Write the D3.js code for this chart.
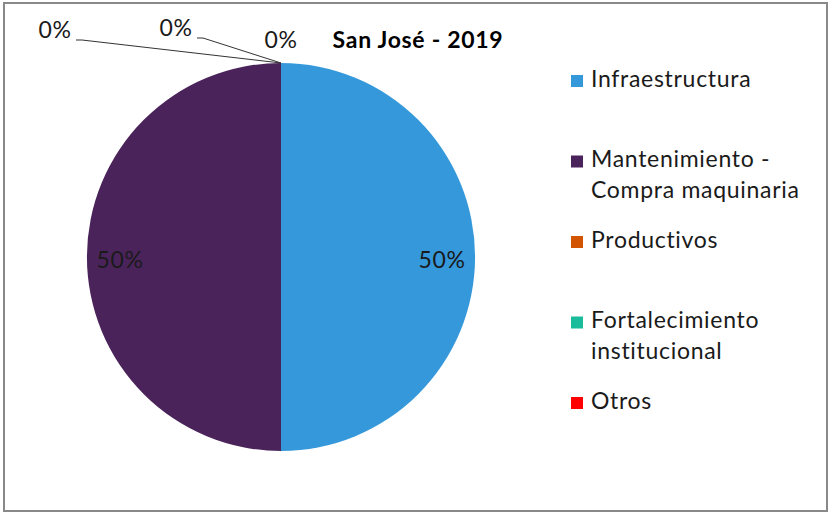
<!DOCTYPE html>
<html lang="es">
<head>
    <meta charset="UTF-8">
    <title>San José - 2019</title>
    <script src="https://d3js.org/d3.v7.min.js"></script>
    <style>
        body {
            margin: 0;
            background-color: #ffffff;
            font-family: Lato, "Open Sans", sans-serif;
        }
        svg text {
            fill: #1a1a1a;
            letter-spacing: 0.7px;
        }
    </style>
</head>
<body>
    <svg id="chart" width="832" height="514"></svg>
    <script>
        // data
        const title = 'San José - 2019';
        const categories = ['Infraestructura', 'Mantenimiento - Compra maquinaria', 'Productivos', 'Fortalecimiento institucional', 'Otros'];
        const legendLines = [['Infraestructura'], ['Mantenimiento -', 'Compra maquinaria'], ['Productivos'], ['Fortalecimiento', 'institucional'], ['Otros']];
        const values = [50, 50, 0, 0, 0];
        const colors = ['#3498db', '#4a235a', '#d35400', '#1abc9c', '#ff0000'];

        // layout for the three 0% labels (pulled out to the upper left by Excel)
        const zeroLabelPos = [[-226, -225], [-105, -227], [0, -215]];

        const svg = d3.select('#chart');
        const cx = 281, cy = 257, r = 194;
        const fs = 23;

        // frame
        svg.append('rect')
            .attr('x', 4).attr('y', 3)
            .attr('width', 823).attr('height', 508)
            .attr('fill', '#fff')
            .attr('stroke', '#898989')
            .attr('stroke-width', 2);

        const data = categories.map((c, i) => ({ name: c, value: values[i], color: colors[i] }));
        const pie = d3.pie().sort(null).value(d => d.value);
        const arcs = pie(data);
        const arc = d3.arc().innerRadius(0).outerRadius(r);
        const labelArc = d3.arc().innerRadius(r * 0.83).outerRadius(r * 0.83);

        const g = svg.append('g').attr('transform', `translate(${cx},${cy})`);

        g.selectAll('path.slice')
            .data(arcs.filter(d => d.value > 0))
            .join('path')
            .attr('class', 'slice')
            .attr('d', arc)
            .attr('fill', d => d.data.color);

        const total = d3.sum(values);
        const fmt = v => Math.round(v / total * 100) + '%';

        // big labels
        g.selectAll('text.big')
            .data(arcs.filter(d => d.value > 0))
            .join('text')
            .attr('class', 'big')
            .attr('x', d => labelArc.centroid(d)[0])
            .attr('y', d => labelArc.centroid(d)[1] + 5)
            .attr('text-anchor', 'middle')
            .attr('dominant-baseline', 'middle')
            .attr('font-size', fs)
            .text(d => fmt(d.value));

        // zero labels with leader lines
        const zeros = arcs.filter(d => d.value === 0);
        zeros.forEach((d, i) => {
            const pt = [r * Math.sin(d.startAngle), -r * Math.cos(d.startAngle)];
            const [lx, ly] = zeroLabelPos[i];
            g.append('text')
                .attr('x', lx)
                .attr('y', ly)
                .attr('text-anchor', 'middle')
                .attr('dominant-baseline', 'middle')
                .attr('font-size', fs)
                .text(fmt(d.value));
            if (i < 2) {
                const sx = lx + 21;
                g.append('polyline')
                    .attr('points', [[sx, ly + 8], [sx + 6, ly + 8], pt].map(q => q.join(',')).join(' '))
                    .attr('fill', 'none')
                    .attr('stroke', '#333')
                    .attr('stroke-width', 1);
            }
        });

        // title
        svg.append('text')
            .attr('x', 418)
            .attr('y', 42)
            .attr('text-anchor', 'middle')
            .attr('dominant-baseline', 'middle')
            .attr('font-size', fs)
            .attr('font-weight', 'bold')
            .style('fill', '#000')
            .text(title);

        // legend
        const legendY = d3.scalePoint().domain(categories).range([81, 403]);
        const lg = svg.append('g');
        categories.forEach((c, i) => {
            const y = legendY(c);
            lg.append('rect')
                .attr('x', 571).attr('y', y - 6)
                .attr('width', 12).attr('height', 12)
                .attr('fill', colors[i]);
            legendLines[i].forEach((t, j) => {
                lg.append('text')
                    .attr('x', 591)
                    .attr('y', y + j * 31)
                    .attr('dominant-baseline', 'middle')
                    .attr('font-size', fs)
                    .text(t);
            });
        });
    </script>
</body>
</html>
